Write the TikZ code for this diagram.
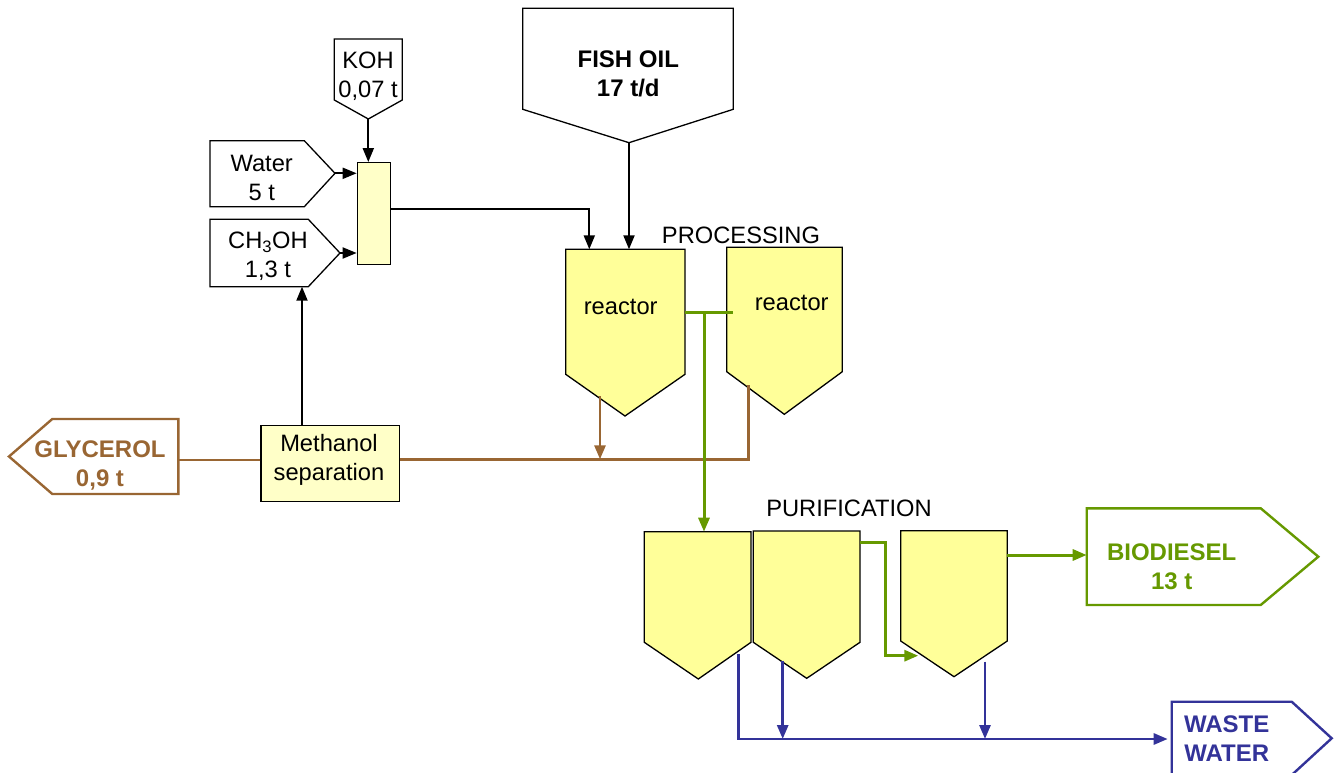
\documentclass[tikz,border=0pt]{standalone}
\usepackage{fontspec}
\setmainfont{Liberation Sans}
\usetikzlibrary{arrows.meta}
\definecolor{tank}{HTML}{FFFF99}
\definecolor{pale}{HTML}{FFFFC8}
\definecolor{grn}{HTML}{669900}
\definecolor{brn}{HTML}{996633}
\definecolor{blu}{HTML}{333399}
\tikzset{
  box/.style={draw=black, line width=1.3pt, line join=miter, fill=white},
  tankbox/.style={draw=black, fill=tank, line width=1.3pt, line join=miter},
  palebox/.style={draw=black, fill=pale, line width=1.3pt},
  lbl/.style={inner sep=0pt, align=center, font=\fontsize{23.7}{29}\selectfont},
  blbl/.style={lbl, font=\fontsize{24}{29}\selectfont\bfseries},
  tip/.style={-{Triangle[length=14pt,width=11pt]}},
  blackflow/.style={draw=black, line width=2pt},
  greenflow/.style={draw=grn, line width=3pt},
  brownflow/.style={draw=brn, line width=2.8pt},
  blueflow/.style={draw=blu, line width=2.8pt},
}
\begin{document}
\begin{tikzpicture}[x=1pt,y=-1pt]
\useasboundingbox (0,0) rectangle (1342,773);

% ---- inputs
\path[box] (334.3,39) -- (402.3,39) -- (402.3,100) -- (368.3,119) -- (334.3,100) -- cycle;
\coordinate (kohtip) at (368.3,119);
\node[lbl] (koh) at (368,76.5) {KOH\\0,07 t};

\path[box] (210,140.7) -- (304.3,140.7) -- (335,173.3) -- (304.3,206.7) -- (210,206.7) -- cycle;
\coordinate (watertip) at (335,173.3);
\node[lbl] (water) at (261.7,178) {Water\\5 t};

\path[box] (210,219.3) -- (308.3,219.3) -- (340,253) -- (308.3,286.7) -- (210,286.7) -- cycle;
\coordinate (ch3tip) at (340,253);
\coordinate (ch3bot) at (302,286.7);
\node[lbl] (ch3oh) at (268,256.5) {CH\textsubscript{3}OH\\1,3 t};

\node[palebox, minimum width=33.4pt, minimum height=101.6pt, inner sep=0pt] (mixer) at (374,213.5) {};

\path[box] (522.7,8.3) -- (733.3,8.3) -- (733.3,109.3) -- (629,142.7) -- (522.7,109.3) -- cycle;
\coordinate (fishtip) at (629,142.7);
\node[blbl] (fish) at (628.3,74) {FISH OIL\\17 t/d};

% ---- reactors
\path[tankbox] (565.7,249.3) -- (685,249.3) -- (685,374.3) -- (625,416) -- (565.7,374.3) -- cycle;
\node[lbl] (r1) at (620.7,306.7) {reactor};
\path[tankbox] (726.7,247.3) -- (842.3,247.3) -- (842.3,371.7) -- (784.3,414.3) -- (726.7,371.7) -- cycle;
\node[lbl] (r2) at (791.7,303.3) {reactor};
\node[lbl] (proc) at (741,235) {PROCESSING};

\coordinate (r1in) at (589.3,249.3);
\coordinate (r1fish) at (629,249.3);
\coordinate (r1out) at (685,312.7);
\coordinate (r2in) at (732.7,312.7);
\coordinate (r1bot) at (600,396);
\coordinate (r2bot) at (748.3,385);

% ---- methanol separation & glycerol
\node[palebox, minimum width=138.3pt, minimum height=76pt, inner sep=0pt] (msep) at (330.2,463.7) {};
\node[lbl] (msept) at (329,459.5) {Methanol\\separation};

\path[box, draw=brn, line width=2.4pt] (9,456.5) -- (52.3,419) -- (178.3,419) -- (178.3,494) -- (52.3,494) -- cycle;
\coordinate (glyin) at (178.3,460);
\node[blbl, text=brn] (gly) at (100,465) {GLYCEROL\\0,9 t};

% ---- purification
\path[tankbox] (644.3,531.7) -- (751,531.7) -- (751,642.3) -- (698.3,679) -- (644.3,642.3) -- cycle;
\path[tankbox] (753.3,531) -- (860,531) -- (860,642.3) -- (806.7,678.3) -- (753.3,642.3) -- cycle;
\path[tankbox] (900.7,530.7) -- (1007.3,530.7) -- (1007.3,641) -- (954,676.7) -- (900.7,641) -- cycle;
\node[lbl] (puri) at (849,508.3) {PURIFICATION};
\coordinate (pa) at (704,531.7);
\coordinate (paout) at (738.3,654.3);
\coordinate (pbout) at (860,542.7);
\coordinate (pbbot) at (782.7,660.7);
\coordinate (pcin) at (918.3,655.7);
\coordinate (pcout) at (1007.3,555);
\coordinate (pcbot) at (985,661.7);

% ---- outputs
\path[box, draw=grn, line width=2.4pt] (1086.7,508.3) -- (1260.7,508.3) -- (1318.3,556.7) -- (1260.7,605) -- (1086.7,605) -- cycle;
\coordinate (bioin) at (1086.7,555);
\node[blbl, text=grn] (bio) at (1171.7,567) {BIODIESEL\\13 t};

\path[box, draw=blu, line width=2.4pt] (1171.7,701.7) -- (1291.7,701.7) -- (1331.7,738.3) -- (1291.7,775) -- (1171.7,775) -- cycle;
\coordinate (wwin) at (1171.7,739);
\node[blbl, text=blu] (ww) at (1226.7,739) {WASTE\\WATER};

% ---- black connectors
\draw[blackflow, tip] (kohtip) -- (mixer.north -| kohtip);
\draw[blackflow, tip] (watertip) -- (mixer.west |- watertip);
\draw[blackflow, tip] (ch3tip) -- (mixer.west |- ch3tip);
\draw[blackflow, tip] (mixer.east |- 0,209.3) -| (r1in);
\draw[blackflow, tip] (fishtip) -- (r1fish);
\draw[blackflow, tip] (msep.north -| ch3bot) -- (ch3bot);

% ---- brown connectors
\draw[brownflow, tip] (r1bot) -- (r1bot |- 0,459.3);
\draw[brownflow] (r2bot) |- (msep.east |- 0,459.3);
\draw[brownflow] (msep.west |- glyin) -- (glyin);

% ---- green connectors
\draw[greenflow] (r1out) -- (r2in);
\draw[greenflow, tip] (704,312.7) -- (pa);
\draw[greenflow, tip] (pbout) -- (885.7,542.7) |- (pcin);
\draw[greenflow, tip] (pcout) -- (bioin);

% ---- blue connectors
\draw[blueflow, tip] (paout) |- ([xshift=-4pt]wwin);
\draw[blueflow, tip] (pbbot) -- (pbbot |- wwin);
\draw[blueflow, tip] (pcbot) -- (pcbot |- wwin);
\end{tikzpicture}
\end{document}
